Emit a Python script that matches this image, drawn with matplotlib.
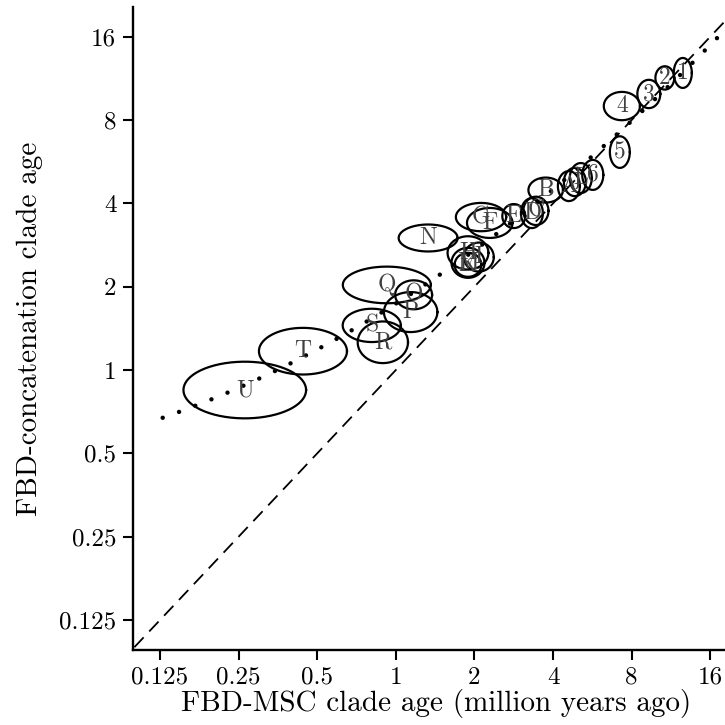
import numpy as np
import matplotlib
matplotlib.use("Agg")
import matplotlib.pyplot as plt

plt.rcParams['font.family'] = ['cmr10', 'DejaVu Serif']
plt.rcParams['axes.formatter.use_mathtext'] = True

# clade labels, median ages (Ma) and half-widths of the intervals in log2 units
labels = ['A', 'B', 'C', 'D', 'E', 'F', 'G', 'H', 'I', 'J', 'K', 'L', 'M',
          'N', 'O', 'P', 'Q', 'R', 'S', 'T', 'U', '1', '2', '3', '4', '5', '6']
msc_age = [4.60, 3.75, 3.44, 3.32, 2.83, 2.29, 2.12, 1.89, 2.08, 4.85, 1.89, 5.11, 1.89,
           1.33, 1.17, 1.14, 0.924, 0.892, 0.809, 0.441, 0.264,
           12.56, 10.72, 9.31, 7.34, 7.21, 5.68]
cat_age = [4.62, 4.47, 3.76, 3.69, 3.60, 3.40, 3.57, 2.65, 2.56, 4.78, 2.40, 4.94, 2.44,
           3.00, 1.87, 1.62, 2.03, 1.26, 1.45, 1.17, 0.847,
           11.84, 11.36, 9.94, 8.99, 6.13, 5.07]
msc_hw = [0.14, 0.22, 0.16, 0.14, 0.146, 0.29, 0.32, 0.26, 0.19, 0.14, 0.17, 0.14, 0.21,
          0.375, 0.235, 0.34, 0.56, 0.32, 0.37, 0.56, 0.78,
          0.115, 0.12, 0.146, 0.23, 0.127, 0.134]
cat_hw = [0.18, 0.15, 0.17, 0.18, 0.144, 0.18, 0.17, 0.20, 0.174, 0.17, 0.144, 0.18, 0.18,
          0.162, 0.174, 0.24, 0.22, 0.25, 0.20, 0.28, 0.34,
          0.18, 0.14, 0.17, 0.17, 0.19, 0.18]

ticks = [0.125, 0.25, 0.5, 1, 2, 4, 8, 16]
tick_labels = ['0.125', '0.25', '0.5', '1', '2', '4', '8', '16']

fig = plt.figure(figsize=(7.25, 7.25), dpi=100)
ax = fig.add_axes([0.1834, 0.1034, 0.835, 0.887])
ax.set_xscale('log', base=2)
ax.set_yscale('log', base=2)
xlim = (0.0985, 20.5)
ylim = (0.0974, 20.5)

# y = x reference
ax.plot([0.05, 40], [0.05, 40], color='black', lw=1.3, dashes=(7.5, 4.5))

# quadratic trend in log-log space
lx = np.log2(msc_age)
ly = np.log2(cat_age)
coef = np.polyfit(lx, ly, 2)
xs = np.linspace(np.log2(0.128), np.log2(25), 300)
ax.plot(2 ** xs, 2 ** np.polyval(coef, xs), color='black', lw=3.2,
        linestyle=(0, (0.01, 3.9)), dash_capstyle='round')

t = np.linspace(0, 2 * np.pi, 200)
for lab, mx, cy, hx, hy in zip(labels, msc_age, cat_age, msc_hw, cat_hw):
    ex = 2 ** (np.log2(mx) + hx * np.cos(t))
    ey = 2 ** (np.log2(cy) + hy * np.sin(t))
    ax.plot(ex, ey, color='black', lw=1.6)
    ax.text(mx, cy, lab, ha='center', va='center', fontsize=17, color='0.25')

ax.set_xlim(*xlim)
ax.set_ylim(*ylim)
ax.set_xticks(ticks)
ax.set_xticklabels(tick_labels)
ax.set_yticks(ticks)
ax.set_yticklabels(tick_labels)
ax.minorticks_off()
ax.tick_params(labelsize=18, length=7, width=1.5, direction='out', pad=5)
for s in ['top', 'right']:
    ax.spines[s].set_visible(False)
for s in ['left', 'bottom']:
    ax.spines[s].set_linewidth(1.7)
ax.set_xlabel('FBD-MSC clade age (million years ago)', fontsize=21, labelpad=0)
ax.set_ylabel('FBD-concatenation clade age', fontsize=21, labelpad=12)

fig.savefig('out.png', dpi=100)
